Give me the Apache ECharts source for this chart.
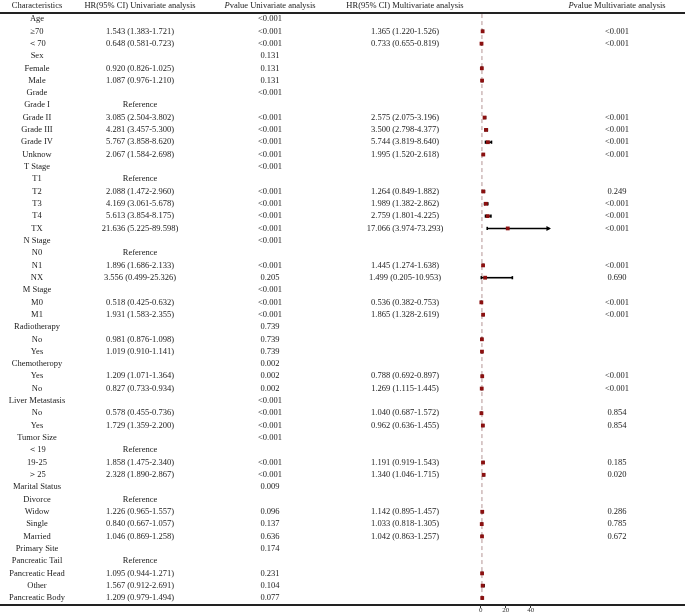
<!DOCTYPE html>
<html>
<head>
<meta charset="utf-8">
<style>html,body{margin:0;padding:0;background:#fff;}#c{width:685px;height:615px;}</style>
<script src="https://cdn.jsdelivr.net/npm/echarts@6/dist/echarts.min.js"></script>
</head>
<body>
<div id="c"></div>
<script>
// ---- data ----
const labels = ['Age','≥70','＜70','Sex','Female','Male','Grade','Grade I','Grade II','Grade III','Grade IV','Unknow',
 'T Stage','T1','T2','T3','T4','TX','N Stage','N0','N1','NX','M Stage','M0','M1','Radiotherapy','No','Yes',
 'Chemotheropy','Yes','No','Liver Metastasis','No','Yes','Tumor Size','＜19','19-25','＞25','Marital Status',
 'Divorce','Widow','Single','Married','Primary Site','Pancreatic Tail','Pancreatic Head','Other','Pancreatic Body'];
const R = 'ref';
const uniHR  = [null,1.543,0.648,null,0.920,1.087,null,R,3.085,4.281,5.767,2.067,null,R,2.088,4.169,5.613,21.636,null,R,1.896,3.556,null,0.518,1.931,null,0.981,1.019,null,1.209,0.827,null,0.578,1.729,null,R,1.858,2.328,null,R,1.226,0.840,1.046,null,R,1.095,1.567,1.209];
const uniLow = [null,1.383,0.581,null,0.826,0.976,null,null,2.504,3.457,3.858,1.584,null,null,1.472,3.061,3.854,5.225,null,null,1.686,0.499,null,0.425,1.583,null,0.876,0.910,null,1.071,0.733,null,0.455,1.359,null,null,1.475,1.890,null,null,0.965,0.667,0.869,null,null,0.944,0.912,0.979];
const uniHigh= [null,1.721,0.723,null,1.025,1.210,null,null,3.802,5.300,8.620,2.698,null,null,2.960,5.678,8.175,89.598,null,null,2.133,25.326,null,0.632,2.355,null,1.098,1.141,null,1.364,0.934,null,0.736,2.200,null,null,2.340,2.867,null,null,1.557,1.057,1.258,null,null,1.271,2.691,1.494];
const uniP   = ['<0.001','<0.001','<0.001','0.131','0.131','0.131','<0.001','','<0.001','<0.001','<0.001','<0.001','<0.001','','<0.001','<0.001','<0.001','<0.001','<0.001','','<0.001','0.205','<0.001','<0.001','<0.001','0.739','0.739','0.739','0.002','0.002','0.002','<0.001','<0.001','<0.001','<0.001','','<0.001','<0.001','0.009','','0.096','0.137','0.636','0.174','','0.231','0.104','0.077'];
const mulHR  = [null,1.365,0.733,null,null,null,null,null,2.575,3.500,5.744,1.995,null,null,1.264,1.989,2.759,17.066,null,null,1.445,1.499,null,0.536,1.865,null,null,null,null,0.788,1.269,null,1.040,0.962,null,null,1.191,1.340,null,null,1.142,1.033,1.042,null,null,null,null,null];
const mulLow = [null,1.220,0.655,null,null,null,null,null,2.075,2.798,3.819,1.520,null,null,0.849,1.382,1.801,3.974,null,null,1.274,0.205,null,0.382,1.328,null,null,null,null,0.692,1.115,null,0.687,0.636,null,null,0.919,1.046,null,null,0.895,0.818,0.863,null,null,null,null,null];
const mulHigh= [null,1.526,0.819,null,null,null,null,null,3.196,4.377,8.640,2.618,null,null,1.882,2.862,4.225,73.293,null,null,1.638,10.953,null,0.753,2.619,null,null,null,null,0.897,1.445,null,1.572,1.455,null,null,1.543,1.715,null,null,1.457,1.305,1.257,null,null,null,null,null];
const mulP   = ['','<0.001','<0.001','','','','','','<0.001','<0.001','<0.001','<0.001','','','0.249','<0.001','<0.001','<0.001','','','<0.001','0.690','','<0.001','<0.001','','','','','<0.001','<0.001','','0.854','0.854','','','0.185','0.020','','','0.286','0.785','0.672','','','','',''];
const xTicks = [0, 20, 40];
const xMax = 55;
const refHR = 1;

// ---- helpers ----
const FONT = '"Liberation Serif", "Times New Roman", serif';
const FS = 8.5;
const TXT = '#222';
function hrText(h, l, u) {
  if (h === R) return 'Reference';
  if (h == null) return '';
  return h.toFixed(3) + ' (' + l.toFixed(3) + '-' + u.toFixed(3) + ')';
}
const colX = {label: 37, uni: 140, uniP: 270, mul: 405, mulP: 617};

const tableData = labels.map((l, i) => [0, i]);
const forestData = [];
labels.forEach((l, i) => {
  if (typeof uniHR[i] === 'number') forestData.push([uniLow[i], i, uniHigh[i], uniHR[i]]);
});

const chart = echarts.init(document.getElementById('c'), null, {renderer: 'canvas'});

function txt(x, y, s) {
  return {type: 'text', x: x, y: y, style: {text: s, font: FS + 'px ' + FONT, fill: TXT, align: 'center', verticalAlign: 'middle'}};
}

const option = {
  animation: false,
  backgroundColor: '#fff',
  grid: {left: 480.7, width: xMax * 1.25, top: 19, height: 579, containLabel: false},
  xAxis: {
    type: 'value', min: 0, max: xMax, interval: 20, offset: 7, position: 'bottom',
    axisLine: {show: false, onZero: false},
    splitLine: {show: false},
    axisTick: {show: true, length: 3, lineStyle: {color: '#333', width: 1}, customValues: xTicks},
    axisLabel: {fontFamily: FONT, fontSize: 7, color: '#333', margin: 2, customValues: xTicks,
      formatter: v => (xTicks.indexOf(v) >= 0 ? String(v) : '')}
  },
  yAxis: {type: 'value', min: 0, max: labels.length - 1, inverse: true, show: false},
  graphic: [
    {type: 'line', shape: {x1: 0, y1: 13, x2: 685, y2: 13}, style: {stroke: '#222', lineWidth: 1.8}},
    {type: 'line', shape: {x1: 0, y1: 605, x2: 685, y2: 605}, style: {stroke: '#222', lineWidth: 1.8}},
    txt(colX.label, 6, 'Characteristics'),
    txt(colX.uni, 6, 'HR(95% CI) Univariate analysis'),
    {type: 'text', x: colX.uniP, y: 6, style: {text: '{i|P}value Univariate analysis', font: FS + 'px ' + FONT, fill: TXT, align: 'center', verticalAlign: 'middle',
      rich: {i: {fontStyle: 'italic', fontFamily: FONT, fontSize: FS, fill: TXT}}}},
    txt(colX.mul, 6, 'HR(95% CI) Multivariate analysis'),
    {type: 'text', x: colX.mulP, y: 6, style: {text: '{i|P}value Multivariate analysis', font: FS + 'px ' + FONT, fill: TXT, align: 'center', verticalAlign: 'middle',
      rich: {i: {fontStyle: 'italic', fontFamily: FONT, fontSize: FS, fill: TXT}}}}
  ],
  series: [
    {
      type: 'line', name: 'ref', silent: true, symbol: 'none', clip: false, z: 1,
      data: [[refHR, -0.4], [refHR, labels.length - 0.8]],
      lineStyle: {color: '#b59595', type: [4, 3], width: 1}
    },
    {
      type: 'custom', name: 'table', clip: false, silent: true,
      data: tableData,
      encode: {x: 0, y: 1},
      renderItem: function (params, api) {
        const i = api.value(1);
        const y = api.coord([0, i])[1];
        return {type: 'group', children: [
          txt(colX.label, y, labels[i]),
          txt(colX.uni, y, hrText(uniHR[i], uniLow[i], uniHigh[i])),
          txt(colX.uniP, y, uniP[i]),
          txt(colX.mul, y, hrText(mulHR[i], mulLow[i], mulHigh[i])),
          txt(colX.mulP, y, mulP[i])
        ]};
      }
    },
    {
      type: 'custom', name: 'forest', clip: false, silent: true, z: 3,
      data: forestData,
      encode: {x: [0, 2, 3], y: 1},
      renderItem: function (params, api) {
        const lo = api.value(0), row = api.value(1), hi = api.value(2), hr = api.value(3);
        const cut = hi > xMax;
        const p1 = api.coord([lo, row]);
        const p2 = api.coord([Math.min(hi, xMax), row]);
        const pt = api.coord([hr, row]);
        const ls = {stroke: '#000', lineWidth: 1.6};
        const ch = [
          {type: 'line', shape: {x1: p1[0], y1: p1[1], x2: p2[0], y2: p2[1]}, style: ls},
          {type: 'line', shape: {x1: p1[0], y1: p1[1] - 1.6, x2: p1[0], y2: p1[1] + 1.6}, style: ls}
        ];
        if (cut) {
          ch.push({type: 'polygon', shape: {points: [[p2[0] + 1.5, p2[1]], [p2[0] - 3, p2[1] - 2.5], [p2[0] - 3, p2[1] + 2.5]]}, style: {fill: '#000'}});
        } else {
          ch.push({type: 'line', shape: {x1: p2[0], y1: p2[1] - 1.6, x2: p2[0], y2: p2[1] + 1.6}, style: ls});
        }
        ch.push({type: 'rect', shape: {x: pt[0] - 1.9, y: pt[1] - 1.9, width: 3.8, height: 3.8}, style: {fill: '#8b1010'}});
        return {type: 'group', children: ch};
      }
    }
  ]
};
chart.setOption(option);
</script>
</body>
</html>
